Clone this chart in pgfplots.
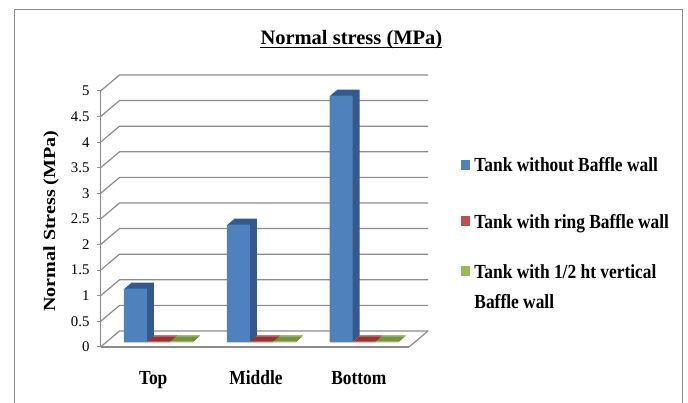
\documentclass[border=0pt]{standalone}
\usepackage{fontspec}
\setmainfont{Liberation Serif}
\newfontfamily\narrowserif{Liberation Serif}[FakeStretch=0.87]
\newfontfamily\wideserif{Liberation Serif}[FakeStretch=1.18]
\usepackage{pgfplots}
\usepackage{pgfplotstable}
\pgfplotsset{compat=1.18}

\definecolor{gridgray}{HTML}{8C8C8C}
\definecolor{frameGray}{HTML}{8C8C8C}
\definecolor{blueFront}{HTML}{4F81BD}
\definecolor{blueSide}{HTML}{34598A}
\definecolor{redFront}{HTML}{C0504D}
\definecolor{redSide}{HTML}{943634}
\definecolor{greenFront}{HTML}{9BBB59}
\definecolor{greenSide}{HTML}{76923C}

% Normal stress (MPa) at three heights of the tank wall
\pgfplotstableread{
pos without ring half
0   1.05    0.02 0.02
1   2.30    0.02 0.02
2   4.82    0.02 0.02
}\stressdata

% One series of 3D-looking columns: depth faces built from shifted copies,
% front face on top.  #1 column, #2 bar shift, #3 front colour, #4 depth colour
\newcommand\barseries[4]{%
  \pgfplotsinvokeforeach{7,6,...,1}{%
    \addplot[ybar, bar width=23pt, bar shift=#2, fill=#4, draw=none, forget plot,
      xshift={6.5pt+##1*1pt}, yshift={4.5pt+##1*0.857pt}]
      table[x=pos, y=#1] {\stressdata};
  }%
  \addplot[ybar, bar width=23pt, bar shift=#2, fill=#3, draw=none, forget plot,
    xshift=6.5pt, yshift=4.5pt]
    table[x=pos, y=#1] {\stressdata};
}

\begin{document}
\begin{tikzpicture}[x=1pt,y=1pt]
\useasboundingbox (0,0) rectangle (688,403);
\clip (0,0) rectangle (688,403);
\fill[white] (0,0) rectangle (688,403);
\draw[frameGray, line width=1pt] (14.5,-5) rectangle (682,393.5);

\node[anchor=base, inner sep=0pt] (title) at (351.4,358.7)
  {\bfseries\fontsize{20.5}{24}\selectfont Normal stress (MPa)};
\draw[line width=1.6pt] ([yshift=-3.2pt]title.base west) -- ([yshift=-3.2pt]title.base east);

\begin{axis}[
  at={(100.5pt,56pt)}, anchor=south west,
  scale only axis, width=308.5pt, height=256pt,
  xmin=-0.5, xmax=2.5, ymin=0, ymax=5,
  clip=false,
  axis lines*=left,
  axis line style={gridgray, line width=1.2pt},
  ytick distance=0.5,
  tick align=outside, major tick length=3pt,
  ytick style={gridgray, line width=1pt},
  /pgf/number format/assume math mode=true,
  yticklabel style={font=\fontsize{14.8}{16}\selectfont, xshift=-4.5pt},
  xtick={0,1,2}, xticklabels={Top,Middle,Bottom},
  xtick style={draw=none},
  xticklabel style={font=\narrowserif\bfseries\fontsize{20}{24}\selectfont,
    anchor=base, yshift=-35pt, xshift=1.3pt},
  ylabel={Normal Stress (MPa)},
  every axis y label/.style={at={(axis description cs:-0.1605,0.492)},
    rotate=90, anchor=center,
    font=\wideserif\bfseries\fontsize{17}{20}\selectfont},
  legend cell align=left,
  legend style={at={(axis description cs:1.1686,0.7383)}, anchor=north west,
    draw=none, fill=none, inner sep=0pt, outer sep=0pt,
    row sep=36.3pt, column sep=5.5pt,
    cells={anchor=base west},
    nodes={inner sep=0pt, anchor=base west},
    font=\narrowserif\bfseries\fontsize{20}{30}\selectfont},
]
% side wall and back wall gridlines
\pgfplotsinvokeforeach{0,0.5,...,5}{
  \draw[gridgray, line width=1.2pt] (axis cs:-0.5,#1) -- ++(19pt,16pt) -- ++(308.5pt,0pt);
}
% right edge of the floor
\draw[gridgray, line width=1.2pt] (axis cs:2.5,0) -- ++(19pt,16pt);

\barseries{without}{-23pt}{blueFront}{blueSide}
\barseries{ring}{0pt}{redFront}{redSide}
\barseries{half}{23pt}{greenFront}{greenSide}

\addlegendimage{legend image code/.code={\fill[blueFront] (0pt,3pt) rectangle (7.5pt,12pt);}}
\addlegendentry{\raisebox{0pt}[14pt][0pt]{Tank without Baffle wall}}
\addlegendimage{legend image code/.code={\fill[redFront] (0pt,3pt) rectangle (7.5pt,12pt);}}
\addlegendentry{\raisebox{0pt}[18.7pt][0pt]{Tank with ring Baffle wall}}
\addlegendimage{legend image code/.code={\fill[greenFront] (0pt,3pt) rectangle (7.5pt,12pt);}}
\addlegendentry{\raisebox{0pt}[10pt][0pt]{\parbox[t]{200pt}{Tank with 1/2 ht vertical\\Baffle wall}}}
\end{axis}
\end{tikzpicture}
\end{document}
